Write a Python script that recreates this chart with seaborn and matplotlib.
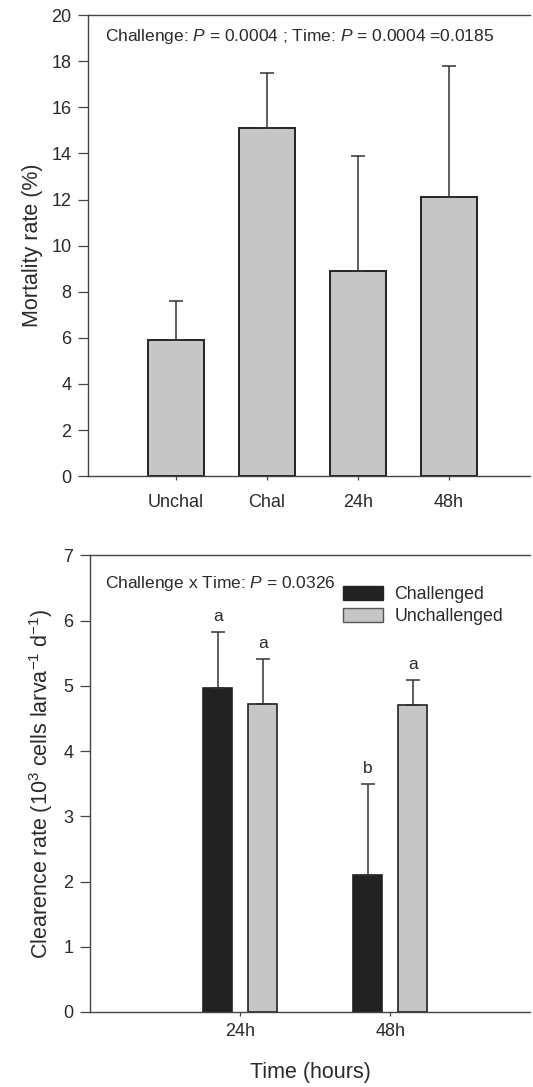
import numpy as np
import pandas as pd
import matplotlib
matplotlib.use("Agg")
import matplotlib.pyplot as plt
import seaborn as sns
from matplotlib.patches import Patch

# Mortality by treatment
mort_groups = ["Unchal", "Chal", "24h", "48h"]
mort_mean = [5.9, 15.1, 8.9, 12.1]
mort_err = [1.7, 2.4, 5.0, 5.7]

# Clearance rate by time and challenge status
times = ["24h", "48h"]
status = ["Challenged", "Unchallenged"]
clr_chal = [4.97, 2.1]
clr_chal_err = [0.86, 1.4]
clr_unchal = [4.73, 4.71]
clr_unchal_err = [0.69, 0.38]
letters_chal = ["a", "b"]
letters_unchal = ["a", "a"]

sns.set_theme(style="ticks")
plt.rcParams["font.family"] = ["Liberation Sans", "DejaVu Sans"]
plt.rcParams["mathtext.fontset"] = "custom"
plt.rcParams["mathtext.rm"] = "Liberation Sans"
plt.rcParams["mathtext.it"] = "Liberation Sans:italic"

GREY = "#c6c6c6"
DARK = "#222222"
TXT = "#2a2a2a"

fig = plt.figure(figsize=(5.33, 10.87), dpi=100)
ax1 = fig.add_axes([0.165, 0.562, 0.829, 0.424])
ax2 = fig.add_axes([0.169, 0.069, 0.825, 0.420])

# ---- Mortality panel ----
df1 = pd.DataFrame({"group": mort_groups, "mort": mort_mean})
sns.barplot(data=df1, x="group", y="mort", color=GREY, width=0.61,
            edgecolor=DARK, linewidth=1.4, saturation=1, errorbar=None, ax=ax1)
for p, m, e in zip(ax1.patches, mort_mean, mort_err):
    cx = p.get_x() + p.get_width() / 2
    ax1.errorbar(cx, m, yerr=[[0], [e]], fmt="none", ecolor="#333333",
                 elinewidth=1.1, capsize=5, capthick=1.1)
ax1.set_xlim(-0.97, 3.89)
ax1.set_ylim(0, 20)
ax1.set_yticks(np.arange(0, 21, 2))
ax1.set_xlabel("")
ax1.set_ylabel("Mortality rate (%)", fontsize=15.5, labelpad=6, color=TXT)
ax1.text(0.038, 0.954, r"Challenge: $P$ = 0.0004 ; Time: $P$ = 0.0004 =0.0185",
         transform=ax1.transAxes, fontsize=12.5, va="center", ha="left",
         color=TXT)

# ---- Clearance panel ----
df2 = pd.DataFrame({
    "time": times * 2,
    "status": [status[0]] * 2 + [status[1]] * 2,
    "rate": clr_chal + clr_unchal,
})
sns.barplot(data=df2, x="time", y="rate", hue="status", hue_order=status,
            palette=[DARK, GREY], width=0.6, gap=0.36, edgecolor=DARK,
            linewidth=1.2, saturation=1, errorbar=None, ax=ax2, legend=False)
bars = [p for p in ax2.patches if p.get_height() > 0]
bars = sorted(bars, key=lambda p: p.get_x())
vals = [clr_chal[0], clr_unchal[0], clr_chal[1], clr_unchal[1]]
errs = [clr_chal_err[0], clr_unchal_err[0], clr_chal_err[1], clr_unchal_err[1]]
labs = [letters_chal[0], letters_unchal[0], letters_chal[1], letters_unchal[1]]
for p, v, e, l in zip(bars, vals, errs, labs):
    cx = p.get_x() + p.get_width() / 2
    ax2.errorbar(cx, v, yerr=[[0], [e]], fmt="none", ecolor="#333333",
                 elinewidth=1.1, capsize=5, capthick=1.1)
    ax2.text(cx, v + e + 0.12, l, ha="center", va="bottom", fontsize=12.5,
             color=TXT)
ax2.set_xlim(-1.0, 1.93)
ax2.set_ylim(0, 7)
ax2.set_yticks(range(0, 8))
ax2.set_xlabel("Time (hours)", fontsize=15.5, labelpad=16, color=TXT)
ax2.set_ylabel(r"Clearence rate (10$^3$ cells larva$^{-1}$ d$^{-1}$)",
               fontsize=15.5, labelpad=6, color=TXT)
ax2.text(0.034, 0.939, r"Challenge x Time: $P$ = 0.0326",
         transform=ax2.transAxes, fontsize=12.5, va="center", ha="left",
         color=TXT)
handles = [Patch(facecolor=DARK, edgecolor=DARK, label=status[0]),
           Patch(facecolor=GREY, edgecolor="#555555", label=status[1])]
ax2.legend(handles=handles, loc="upper left", bbox_to_anchor=(0.575, 0.933),
           frameon=False, fontsize=12.8, handlelength=2.25, handleheight=0.8,
           handletextpad=0.65, labelspacing=0.3, borderaxespad=0,
           borderpad=0, labelcolor=TXT)

for ax in (ax1, ax2):
    ax.spines["right"].set_visible(False)
    for s in ("left", "top", "bottom"):
        ax.spines[s].set_color("#444444")
        ax.spines[s].set_linewidth(1.0)
    ax.tick_params(axis="y", direction="out", length=7, width=0.9, pad=5,
                   labelsize=13, color="#444444", labelcolor=TXT)
ax1.tick_params(axis="x", direction="out", length=3, width=0.9, pad=10,
                labelsize=13, color="#444444", labelcolor=TXT)
ax2.tick_params(axis="x", direction="out", length=3, width=0.9, pad=5,
                labelsize=13, color="#444444", labelcolor=TXT)

fig.savefig("out.png", dpi=100)
